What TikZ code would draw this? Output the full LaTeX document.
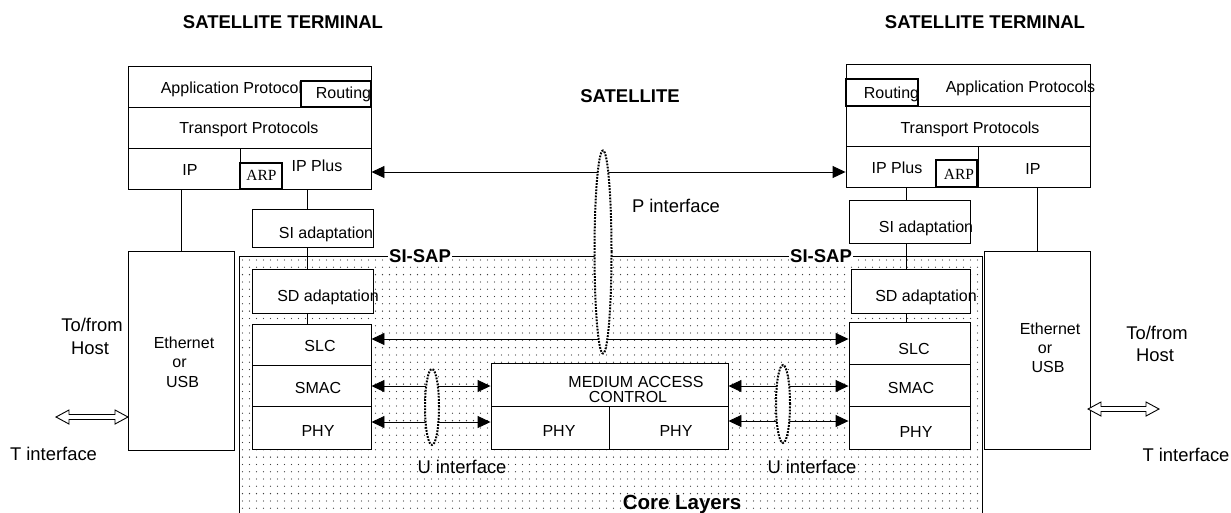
\documentclass[tikz,border=0pt]{standalone}
\usepackage{fontspec}
\setmainfont{Liberation Sans}
\newfontfamily\arpfont{Liberation Serif}
\usetikzlibrary{arrows.meta,shapes.geometric,fit}
\tikzset{
  box/.style={draw, line width=0.9pt, fill=white, inner sep=0pt},
  thickbox/.style={draw, line width=2pt, fill=white, inner sep=0pt},
  t16/.style={font=\fontsize{16}{18}\selectfont, inner sep=0pt, text height=11.5pt, text depth=0pt},
  tarp/.style={font=\arpfont\fontsize{15.5}{17}\selectfont, inner sep=0pt, text height=10.3pt, text depth=0pt},
  t18/.style={font=\fontsize{18.4}{20}\selectfont, inner sep=0pt, text height=13.2pt, text depth=0pt},
  tb/.style={font=\fontsize{18.5}{20}\selectfont\bfseries, inner sep=0pt, text height=13.3pt, text depth=0pt},
  tcore/.style={font=\fontsize{20.5}{22}\selectfont\bfseries, inner sep=0pt, text height=14.7pt, text depth=0pt},
  conn/.style={line width=0.9pt},
  arr/.style={line width=0.9pt, {Triangle[length=13pt,width=12pt]}-{Triangle[length=13pt,width=12pt]}},
  iface/.style={ellipse, draw, fill=white, inner sep=0pt, line width=2pt, dash pattern=on 1.8pt off 1.3pt},
  hollow/.style={draw, line width=0.9pt, fill=white},
  coredot/.style={fill=black!75},
}
\newcommand{\mkbox}[6][box]{\node[#1, fit={(#3,#4) (#5,#6)}] (#2) {};}
\newcommand{\hollowarr}[3]{\draw[hollow] (#1,#2) -- ++(13,-7) -- ++(0,4.5) -- ++({#3-26},0) -- ++(0,-4.5) -- ++(13,7) -- ++(-13,7) -- ++(0,-4.5) -- ++({26-#3},0) -- ++(0,4.5) -- cycle;}
\begin{document}
\begin{tikzpicture}[x=1pt,y=-1pt]
\useasboundingbox (0,0) rectangle (1231,512);
% core region
\node[draw=none, inner sep=0pt, minimum width=743pt, minimum height=262pt, anchor=north west] (core) at (239,256) {};
\foreach \i in {0,...,105}{\foreach \j in {0,...,34}{\fill[coredot] ({242.5+\i*7},{260+\j*7.3}) circle (0.65);}}
\draw[conn] (core.south west) -- (core.north west) -- (core.north east) -- (core.south east);

% left terminal boxes
\mkbox{lapp}{128}{66}{371}{107}
\mkbox{ltrans}{128}{107}{371}{148}
\mkbox{lip}{128}{148}{240}{189}
\mkbox{lipp}{240}{148}{371}{189}
\mkbox{lsi}{252}{209}{373}{247}
\mkbox{lsd}{252}{269}{373}{313}
\mkbox{lslc}{252}{324}{371}{365}
\mkbox{lsmac}{252}{365}{371}{406}
\mkbox{lphy}{252}{406}{371}{449}
\mkbox{leth}{128}{251}{234}{450}
% right terminal boxes
\mkbox{rapp}{846}{64}{1090}{106}
\mkbox{rtrans}{846}{106}{1090}{146}
\mkbox{ripp}{846}{146}{978}{187}
\mkbox{rip}{978}{146}{1090}{187}
\mkbox{rsi}{849}{200}{970}{243}
\mkbox{rsd}{851}{269}{970}{313}
\mkbox{rslc}{849}{322}{970}{364}
\mkbox{rsmac}{849}{364}{970}{406}
\mkbox{rphy}{849}{406}{970}{449}
\mkbox{reth}{984}{251}{1090}{449}
% medium access control
\mkbox{mac}{491}{363}{728}{406}
\mkbox{mphyl}{491}{406}{609}{449}
\mkbox{mphyr}{609}{406}{728}{449}

% vertical connectors
\draw[conn] (leth.north |- lip.south) -- (leth.north);
\draw[conn] ([xshift=1.5pt]lipp.south) -- ([xshift=1.5pt]lipp.south |- lsi.north);
\draw[conn] ([xshift=1.5pt]lipp.south |- lsi.south) -- ([xshift=1.5pt]lipp.south |- lsd.north);
\draw[conn] ([xshift=1.5pt]lipp.south |- lsd.south) -- ([xshift=1.5pt]lipp.south |- lslc.north);
\draw[conn] (reth.north |- rip.south) -- (reth.north);
\draw[conn] ([xshift=-6pt]ripp.south) -- ([xshift=-6pt]ripp.south |- rsi.north);
\draw[conn] ([xshift=-6pt]ripp.south |- rsi.south) -- ([xshift=-6pt]ripp.south |- rsd.north);
\draw[conn] ([xshift=-6pt]ripp.south |- rsd.south) -- ([xshift=-6pt]ripp.south |- rslc.north);

% peer arrows
\draw[arr] (lipp.east |- 0,172) -- (ripp.west |- 0,172);
\draw[arr] (lslc.east |- 0,339) -- (rslc.west |- 0,339);
\draw[arr] (lsmac.east |- 0,386) -- (mac.west |- 0,386);
\draw[arr] (lphy.east |- 0,422) -- (mphyl.west |- 0,422);
\draw[arr] (mac.east |- 0,386) -- (rsmac.west |- 0,386);
\draw[arr] (mphyr.east |- 0,421) -- (rphy.west |- 0,421);

% interface ellipses
\node[iface, minimum width=17pt, minimum height=203pt] (pif) at (603,252) {};
\node[iface, minimum width=14pt, minimum height=76pt] (uifl) at (432,407) {};
\node[iface, minimum width=14pt, minimum height=78pt] (uifr) at (783,404) {};

% T interface hollow arrows
\hollowarr{56}{417}{72}
\hollowarr{1088}{409}{71}

% texts in left terminal
\node[t16] (tlapp) at (235.5,88) {Application Protocols};
\mkbox[thickbox]{lrout}{301}{81}{371}{107}
\node[t16] (tlrout) at (343.5,93) {Routing};
\node[t16] (tltrans) at (249,128) {Transport Protocols};
\node[t16] (tlip) at (190,170) {IP};
\node[t16] (tlipp) at (317,166) {IP Plus};
\mkbox[thickbox]{larp}{240}{163}{282}{189}
\node[tarp] (tlarp) at (261.5,175) {ARP};
\node[t16] (tlsi) at (326,233) {SI adaptation};
\node[t16] (tlsd) at (328,296) {SD adaptation};
\node[t16] (tlslc) at (320,346) {SLC};
\node[t16] (tlsmac) at (318,388) {SMAC};
\node[t16] (tlphy) at (318,431) {PHY};
\node[t16] (tleth1) at (184,343) {Ethernet};
\node[t16] (tleth2) at (179.5,362) {or};
\node[t16] (tleth3) at (182.5,382) {USB};

% texts in right terminal
\node[t16] (trapp) at (1020.5,87) {Application Protocols};
\mkbox[thickbox]{rrout}{846}{79}{918}{106}
\node[t16] (trrout) at (891.5,93) {Routing};
\node[t16] (trtrans) at (970,128) {Transport Protocols};
\node[t16] (trip) at (1033,169) {IP};
\node[t16] (tripp) at (897,168) {IP Plus};
\mkbox[thickbox]{rarp}{936}{160}{977}{187}
\node[tarp] (trarp) at (959,174) {ARP};
\node[t16] (trsi) at (926,227) {SI adaptation};
\node[t16] (trsd) at (926,296) {SD adaptation};
\node[t16] (trslc) at (914,349) {SLC};
\node[t16] (trsmac) at (911,388) {SMAC};
\node[t16] (trphy) at (916,432) {PHY};
\node[t16] (treth1) at (1050,329) {Ethernet};
\node[t16] (treth2) at (1045,348) {or};
\node[t16] (treth3) at (1048,367) {USB};

% medium access control texts
\node[t16] (tmac1) at (636,382) {MEDIUM ACCESS};
\node[t16] (tmac2) at (628,397) {CONTROL};
\node[t16] (tmphyl) at (559,431) {PHY};
\node[t16] (tmphyr) at (676,431) {PHY};

% titles and labels
\node[tb] (ltitle) at (283,22) {SATELLITE TERMINAL};
\node[tb] (rtitle) at (985,22) {SATELLITE TERMINAL};
\node[tb] (sat) at (630,96) {SATELLITE};
\node[tb, fill=white, inner xsep=1.5pt, inner ysep=1pt] (lsap) at (420,256) {SI-SAP};
\node[tb, fill=white, inner xsep=1.5pt, inner ysep=1pt] (rsap) at (821,256) {SI-SAP};
\node[tcore] (corelbl) at (682,502) {Core Layers};
\node[t18] (plbl) at (676,206) {P interface};
\node[t18] (ulbll) at (462,467) {U interface};
\node[t18] (ulblr) at (812,467) {U interface};
\node[t18] (lhost1) at (92,325) {To/from};
\node[t18] (lhost2) at (90,348) {Host};
\node[t18] (rhost1) at (1157,333) {To/from};
\node[t18] (rhost2) at (1155,355) {Host};
\node[t18] (ltif) at (53.5,454) {T interface};
\node[t18] (rtif) at (1186,455) {T interface};
\end{tikzpicture}
\end{document}
